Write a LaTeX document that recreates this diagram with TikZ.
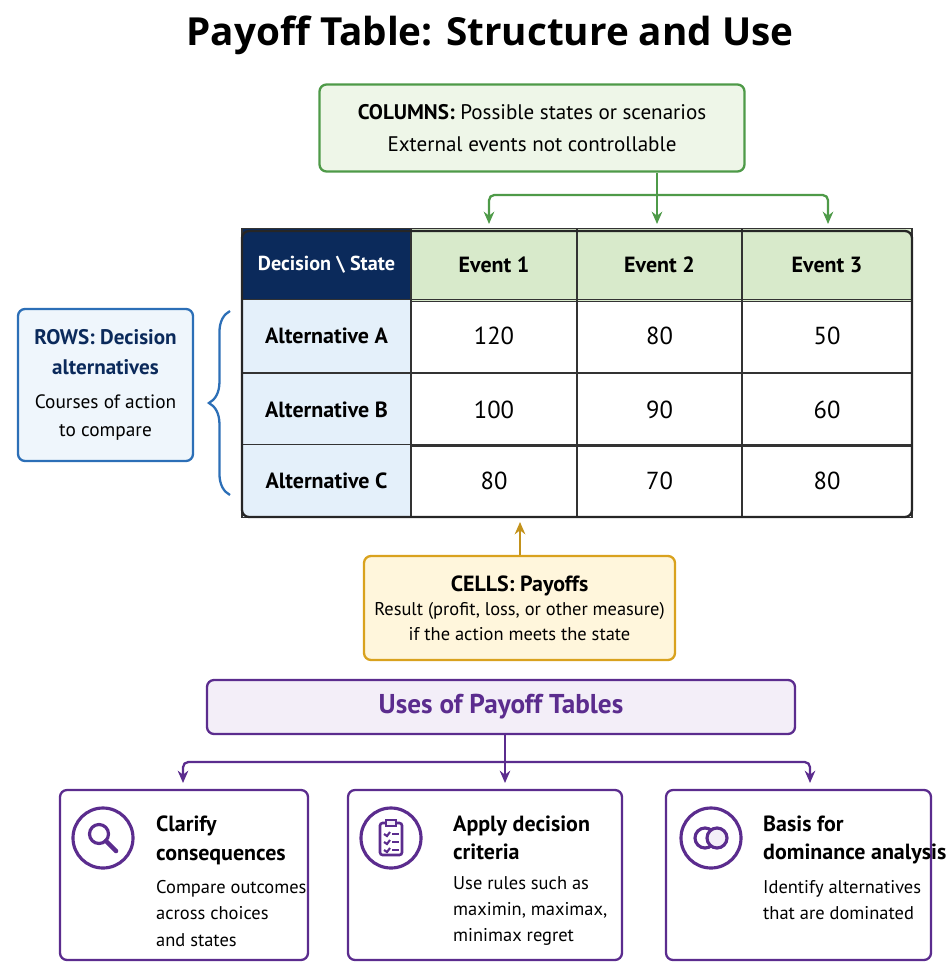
\documentclass[tikz,border=0pt]{standalone}
\usepackage{fontspec}
\setmainfont{PT Sans}
\newfontfamily\titlefont{Open Sans}
\usetikzlibrary{positioning,arrows.meta,decorations.pathreplacing}
\definecolor{grn}{HTML}{4E9A48}
\definecolor{grnfill}{HTML}{EEF6E8}
\definecolor{grnhead}{HTML}{D8EACB}
\definecolor{blu}{HTML}{2C6FB7}
\definecolor{blufill}{HTML}{E4F0FA}
\definecolor{navy}{HTML}{0B2A5B}
\definecolor{gold}{HTML}{D9A21E}
\definecolor{goldfill}{HTML}{FFF6DC}
\definecolor{purp}{HTML}{5B2C8E}
\definecolor{purpfill}{HTML}{F3EEF8}

\begin{document}
\begin{tikzpicture}[x=0.02cm,y=-0.02cm,
    box/.style = {draw, line width=1.3pt, rounded corners=4pt, align=center, inner sep=0pt},
    cell/.style = {draw=black!80, line width=0.9pt, minimum height=73*0.02cm, inner sep=0pt, font=\fontsize{14}{16}\selectfont},
    hd/.style = {cell, fill=grnhead, font=\fontsize{12.5}{15}\selectfont\bfseries},
    alt/.style = {cell, fill=blufill, font=\fontsize{12.5}{15}\selectfont\bfseries},
    arr/.style = {line width=1.3pt, -{Stealth[length=7pt,width=6pt]}},
    usebox/.style = {box, draw=purp, fill=white, minimum width=#1*0.02cm, minimum height=170*0.02cm},
    icon/.style = {circle, draw=purp, line width=1.8pt, minimum size=60*0.02cm, inner sep=0pt},
    ]
    \useasboundingbox (0,0) rectangle (949,979);

    \node[font=\fontsize{22}{26}\selectfont\titlefont\bfseries] (title) at (490,35) {Payoff Table: Structure and Use};

    % columns
    \node[box, draw=grn, fill=grnfill, minimum width=425*0.02cm, minimum height=87*0.02cm,
          font=\fontsize{12}{18}\selectfont] (cols) at (532,128)
          {\textbf{COLUMNS:} Possible states or scenarios\\ External events not controllable};

    % table
    \foreach \xa/\xb/\txt [count=\i] in {411/577/Event 1, 577/742/Event 2, 742/912/Event 3}
        \node[hd, minimum width=(\xb-\xa)*0.02cm] (e\i) at ({(\xa+\xb)/2},265) {\txt};
    \node[cell, fill=navy, text=white, minimum width=169*0.02cm, font=\fontsize{11.5}{13}\selectfont\bfseries] (corner) at (326.5,265) {Decision \textbackslash\ State};
    \foreach \r/\y/\va/\vb/\vc in {A/336/120/80/50, B/409.5/100/90/60, C/481/80/70/80} {
        \node[alt, minimum width=169*0.02cm] (alt\r) at (326.5,\y) {Alternative \r};
        \node[cell, minimum width=166*0.02cm] (c\r1) at (494,\y) {\va};
        \node[cell, minimum width=165*0.02cm] (c\r2) at (659.5,\y) {\vb};
        \node[cell, minimum width=170*0.02cm] (c\r3) at (827,\y) {\vc};
    }
    \draw[black!85, line width=1.3pt, rounded corners=4pt] (242,231) rectangle (912,517);

    \coordinate (split) at (657,195);
    \draw[grn, line width=1.3pt] (cols.south -| split) -- (split);
    \draw[grn, arr] (split) -- (657,224);
    \draw[grn, arr, rounded corners=3pt] (split) -| (489,224);
    \draw[grn, arr, rounded corners=3pt] (split) -| (828,224);

    % rows
    \node[box, draw=blu, fill=blufill!60, minimum width=175*0.02cm, minimum height=152*0.02cm,
          font=\fontsize{11}{16}\selectfont] (rows) at (105.5,385)
          {\textcolor{navy}{\fontsize{12}{16}\selectfont\bfseries ROWS: Decision}\\[1pt] \textcolor{navy}{\fontsize{12}{16}\selectfont\bfseries alternatives}\\[3pt] Courses of action\\ to compare};
    \draw[blu, line width=1.3pt, decorate, decoration={brace, amplitude=12pt}] (230,495) -- (230,311);

    % cells
    \node[box, draw=gold, fill=goldfill, minimum width=311*0.02cm, minimum height=104*0.02cm,
          font=\fontsize{10.5}{14}\selectfont] (cells) at (519.5,608)
          {{\fontsize{12.5}{17}\selectfont\bfseries CELLS: Payoffs}\\ Result (profit, loss, or other measure)\\ if the action meets the state};
    \draw[gold!90!black, arr] (cells.north -| 520,0) -- (520,522);

    % uses
    \node[box, draw=purp, fill=purpfill, minimum width=588*0.02cm, minimum height=54*0.02cm,
          text=purp, font=\fontsize{15.5}{18}\selectfont\bfseries] (uses) at (501,707) {Uses of Payoff Tables};
    \coordinate (fork) at (505,762);
    \draw[purp, line width=1.3pt] (uses.south -| fork) -- (fork);
    \draw[purp, arr] (fork) -- (505,783);
    \draw[purp, arr, rounded corners=3pt] (fork) -| (183,783);
    \draw[purp, arr, rounded corners=3pt] (fork) -| (810,783);

    \node[usebox=248] (u1) at (184,875) {};
    \node[usebox=274] (u2) at (485,875) {};
    \node[usebox=265] (u3) at (798.5,875) {};

    \node[icon] (i1) at (103,838) {};
    \node[icon] (i2) at (391,838) {};
    \node[icon] (i3) at (711,838) {};
    % icon glyphs
    \draw[purp, line width=1.8pt] (99,834) circle (9.5);
    \draw[purp, line width=2.6pt, line cap=round] (106,841) -- (116,851);
    \draw[purp, line width=1.5pt, rounded corners=1.5pt] (380,823) rectangle (402,855);
    \draw[purp, fill=purpfill, line width=1.5pt] (386,820) rectangle (396,826);
    \foreach \yy in {834,842,850} {
        \draw[purp, line width=1.2pt] (384,\yy) -- (387,\yy+2) -- (390,\yy-2);
        \draw[purp, line width=1.2pt] (392,\yy) -- (399,\yy);
    }
    \draw[purp, line width=1.8pt] (705,838) circle (10);
    \draw[purp, line width=1.8pt, fill=purpfill] (717,838) circle (10);

    \foreach \n/\xx/\head/\body in {
        1/150/{Clarify\\consequences}/{Compare outcomes\\across choices\\and states},
        2/447/{Apply decision\\criteria}/{Use rules such as\\maximin, maximax,\\minimax regret},
        3/757/{Basis for\\dominance analysis}/{Identify alternatives\\that are dominated}} {
        \node[anchor=north west, align=left, font=\fontsize{12.5}{16}\selectfont\bfseries] (h\n) at (\xx,810) {\head};
        \node[align=left, font=\fontsize{10.5}{15}\selectfont, below=2pt of h\n.south west, anchor=north west] (b\n) {\body};
    }
\end{tikzpicture}
\end{document}
